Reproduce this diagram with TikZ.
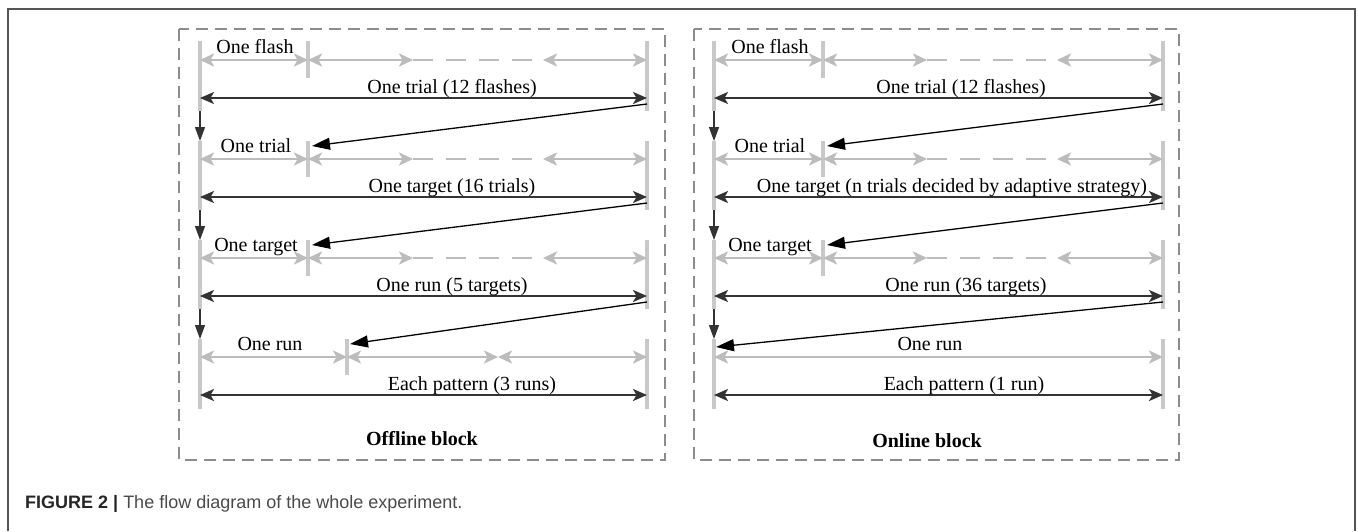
\documentclass[tikz,border=0pt]{standalone}
\usepackage{fontspec}
\setmainfont{Liberation Serif}
\newfontfamily\capfont{Liberation Sans}
\usetikzlibrary{arrows.meta}
\definecolor{greyc}{HTML}{BCBCBC}
\definecolor{barc}{HTML}{C8C8C8}
\definecolor{darkc}{HTML}{333333}
\definecolor{boxc}{HTML}{8C8C8C}
\definecolor{framec}{HTML}{555555}
\definecolor{capc}{HTML}{4A4A4A}
\begin{document}
\begin{tikzpicture}[x=1pt,y=-1pt,
  bar/.style={draw=barc,line width=3.5pt},
  garrow/.style={draw=greyc,line width=2.5pt,{Stealth[length=14pt,width=13pt,inset=3.5pt]}-{Stealth[length=14pt,width=13pt,inset=3.5pt]}},
  gdash/.style={draw=greyc,line width=2.5pt,dash pattern=on 20pt off 13pt},
  barrow/.style={draw=darkc,line width=2pt,{Stealth[length=14pt,width=12pt,inset=3.5pt]}-{Stealth[length=14pt,width=12pt,inset=3.5pt]}},
  slant/.style={draw=black,line width=1.3pt,-{Triangle[length=18pt,width=12pt]}},
  down/.style={draw=darkc,line width=1.3pt,-{Triangle[length=14pt,width=10pt]}},
  lab/.style={font=\fontsize{20}{24}\selectfont,anchor=base,inner sep=0pt,text=black},
  blab/.style={lab,font=\fontsize{20}{24}\selectfont\bfseries},
  box/.style={draw=boxc,line width=1.3pt,dash pattern=on 12pt off 7pt}
]
\useasboundingbox (0,0) rectangle (1358,531);
\fill[white] (0,0) rectangle (1358,531);
% outer frame
\coordinate (fbl) at (8,531); \coordinate (ftl) at (8,9);
\coordinate (ftr) at (1355,9); \coordinate (fbr) at (1355,531);
\draw[framec,line width=1.5pt] (fbl) -- (ftl) -- (ftr) -- (fbr);
% dashed blocks
\draw[box] (179,29) rectangle (665,460);
\draw[box] (694,29) rectangle (1179,460);

% ===== Offline block =====
\foreach \k/\t/\g/\b/\e in {0/41/60/98/111,1/141/159/197/210,2/240/258/296/309,3/339/357/395/409}{
  \coordinate (oLt\k) at (200,\t); \coordinate (oLb\k) at (200,\e);
  \coordinate (oRt\k) at (647,\t); \coordinate (oRb\k) at (647,\e);
  \coordinate (oLk\k) at (200,\b); \coordinate (oRk\k) at (647,\b);
  \coordinate (oLg\k) at (200,\g); \coordinate (oRg\k) at (647,\g);
  \coordinate (oRs\k) at (647,\b+6);
  \draw[bar] (oLt\k) -- (oLb\k);
  \draw[bar] (oRt\k) -- (oRb\k);
  \draw[barrow] (oLk\k) -- (oRk\k);
}
\foreach \k/\t/\g in {0/41/60,1/141/159,2/240/258}{
  \coordinate (oTt\k) at (308,\t); \coordinate (oTb\k) at (308,\g+18);
  \coordinate (oTg\k) at (308,\g); \coordinate (oAg\k) at (413,\g);
  \coordinate (oBg\k) at (543,\g);
  \draw[bar] (oTt\k) -- (oTb\k);
  \draw[garrow] (oLg\k) -- (oTg\k);
  \draw[garrow] (oTg\k) -- (oAg\k);
  \draw[gdash] (oAg\k) -- (oBg\k);
  \draw[garrow] (oBg\k) -- (oRg\k);
}
\coordinate (oTt3) at (347,339); \coordinate (oTb3) at (347,375);
\coordinate (oTg3) at (347,357); \coordinate (oAg3) at (498,357);
\draw[bar] (oTt3) -- (oTb3);
\draw[garrow] (oLg3) -- (oTg3);
\draw[garrow] (oTg3) -- (oAg3);
\draw[garrow] (oAg3) -- (oRg3);
\foreach \k/\n in {0/1,1/2,2/3}{ \draw[down] (oLb\k) -- (oLt\n); }
\coordinate (oE1) at (312,146); \coordinate (oE2) at (312,245); \coordinate (oE3) at (350,344);
\draw[slant] (oRs0) -- (oE1);
\draw[slant] (oRs1) -- (oE2);
\draw[slant] (oRs2) -- (oE3);
\node[lab] (o1) at (255,53) {One flash};
\node[lab] (o2) at (452,93) {One trial (12 flashes)};
\node[lab] (o3) at (256,152) {One trial};
\node[lab] (o4) at (452,192) {One target (16 trials)};
\node[lab] (o5) at (256,251) {One target};
\node[lab] (o6) at (452,291) {One run (5 targets)};
\node[lab] (o7) at (270,350) {One run};
\node[lab] (o8) at (472,390) {Each pattern (3 runs)};
\node[blab] (ob) at (422,445) {Offline block};

% ===== Online block =====
\foreach \k/\t/\g/\b/\e in {0/41/60/98/111,1/141/159/197/210,2/240/258/296/309,3/339/357/395/409}{
  \coordinate (nLt\k) at (714,\t); \coordinate (nLb\k) at (714,\e);
  \coordinate (nRt\k) at (1163,\t); \coordinate (nRb\k) at (1163,\e);
  \coordinate (nLk\k) at (714,\b); \coordinate (nRk\k) at (1163,\b);
  \coordinate (nLg\k) at (714,\g); \coordinate (nRg\k) at (1163,\g);
  \coordinate (nRs\k) at (1163,\b+6);
  \draw[bar] (nLt\k) -- (nLb\k);
  \draw[bar] (nRt\k) -- (nRb\k);
  \draw[barrow] (nLk\k) -- (nRk\k);
}
\foreach \k/\t/\g in {0/41/60,1/141/159,2/240/258}{
  \coordinate (nTt\k) at (823,\t); \coordinate (nTb\k) at (823,\g+18);
  \coordinate (nTg\k) at (823,\g); \coordinate (nAg\k) at (927,\g);
  \coordinate (nBg\k) at (1057,\g);
  \draw[bar] (nTt\k) -- (nTb\k);
  \draw[garrow] (nLg\k) -- (nTg\k);
  \draw[garrow] (nTg\k) -- (nAg\k);
  \draw[gdash] (nAg\k) -- (nBg\k);
  \draw[garrow] (nBg\k) -- (nRg\k);
}
\draw[garrow] (nLg3) -- (nRg3);
\foreach \k/\n in {0/1,1/2,2/3}{ \draw[down] (nLb\k) -- (nLt\n); }
\coordinate (nE1) at (827,146); \coordinate (nE2) at (827,245); \coordinate (nE3) at (716,347);
\draw[slant] (nRs0) -- (nE1);
\draw[slant] (nRs1) -- (nE2);
\draw[slant] (nRs2) -- (nE3);
\node[lab] (n1) at (770,53) {One flash};
\node[lab] (n2) at (961,93) {One trial (12 flashes)};
\node[lab] (n3) at (770,152) {One trial};
\node[lab] (n4) at (952,192) {One target (n trials decided by adaptive strategy)};
\node[lab] (n5) at (770,251) {One target};
\node[lab] (n6) at (966,291) {One run (36 targets)};
\node[lab] (n7) at (930,350) {One run};
\node[lab] (n8) at (964,390) {Each pattern (1 run)};
\node[blab] (nb) at (927,447) {Online block};

% caption
\node[anchor=base west,inner sep=0pt,font=\capfont\fontsize{18}{22}\selectfont,text=capc] (cap) at (25,508)
  {\textcolor{black!85}{\bfseries FIGURE 2 |} The flow diagram of the whole experiment.};
\end{tikzpicture}
\end{document}
